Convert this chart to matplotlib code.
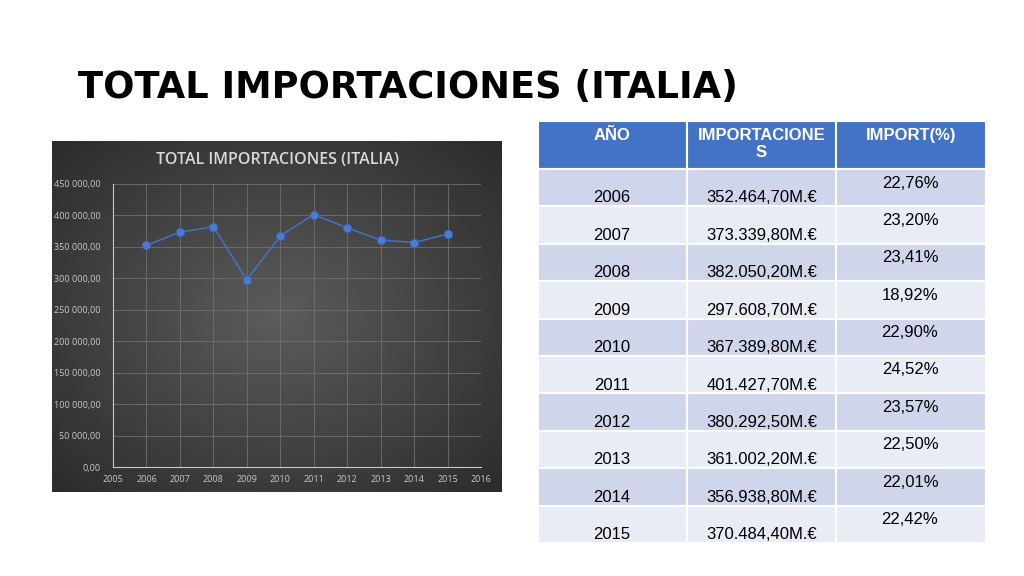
import numpy as np
import matplotlib.pyplot as plt
from matplotlib.patches import Rectangle
from matplotlib.ticker import FuncFormatter

# Datos
years = [2006, 2007, 2008, 2009, 2010, 2011, 2012, 2013, 2014, 2015]
imports = [352464.70, 373339.80, 382050.20, 297608.70, 367389.80,
           401427.70, 380292.50, 361002.20, 356938.80, 370484.40]
import_labels = ['352.464,70M.€', '373.339,80M.€', '382.050,20M.€', '297.608,70M.€',
                 '367.389,80M.€', '401.427,70M.€', '380.292,50M.€', '361.002,20M.€',
                 '356.938,80M.€', '370.484,40M.€']
import_pct = ['22,76%', '23,20%', '23,41%', '18,92%', '22,90%',
              '24,52%', '23,57%', '22,50%', '22,01%', '22,42%']
headers = ['AÑO', 'IMPORTACIONE\nS', 'IMPORT(%)']

W, H = 1024, 576
fig = plt.figure(figsize=(W / 100, H / 100), dpi=100)
fig.patch.set_facecolor('white')

# capa de fondo en coordenadas de pixel
bg = fig.add_axes([0, 0, 1, 1])
bg.set_xlim(0, W)
bg.set_ylim(H, 0)
bg.axis('off')

# titulo de la diapositiva
bg.text(78, 88, 'TOTAL IMPORTACIONES (ITALIA)', fontsize=26.5, fontweight='black',
        family='DejaVu Sans', va='center', ha='left', color='black')

# panel oscuro del grafico con degradado radial
px0, px1, py0, py1 = 52, 502, 141, 492
gx, gy = np.meshgrid(np.linspace(-1, 1, 300), np.linspace(-1, 1, 240))
r = np.sqrt(gx ** 2 + gy ** 2) / np.sqrt(2)
shade = 0.36 - 0.19 * r
img = np.dstack([shade, shade, shade])
bg.imshow(img, extent=[px0, px1, py1, py0], aspect='auto', zorder=1)
bg.set_xlim(0, W)
bg.set_ylim(H, 0)

bg.text((px0 + px1) / 2, 160, 'TOTAL IMPORTACIONES (ITALIA)', fontsize=11.5,
        family='Open Sans', fontweight='semibold', color='#d9d9d9',
        ha='center', va='center', zorder=2)

# tabla
col_x = [538, 687, 836, 986]
head_top, head_bot = 121, 169
row_h = (543 - head_bot) / len(years)
for c in range(3):
    bg.add_patch(Rectangle((col_x[c], head_top), col_x[c + 1] - col_x[c], head_bot - head_top,
                           facecolor='#4472c4', edgecolor='white', lw=1.5, zorder=1))
    bg.text((col_x[c] + col_x[c + 1]) / 2, 128, headers[c], color='white', fontsize=12,
            fontweight='bold', family='Liberation Sans', ha='center', va='top',
            linespacing=1.15, zorder=2)

for i, yr in enumerate(years):
    top = head_bot + i * row_h
    color = '#cfd5ea' if i % 2 == 0 else '#e9ebf5'
    for c in range(3):
        bg.add_patch(Rectangle((col_x[c], top), col_x[c + 1] - col_x[c], row_h,
                               facecolor=color, edgecolor='white', lw=1.5, zorder=1))
    bg.text(612, top + 29, str(yr), fontsize=12, family='Liberation Sans',
            ha='center', va='center', color='black', zorder=2)
    bg.text(762, top + 29, import_labels[i], fontsize=12, family='Liberation Sans',
            ha='center', va='center', color='black', zorder=2)
    bg.text(910, top + 14, import_pct[i], fontsize=12, family='Liberation Sans',
            ha='center', va='center', color='black', zorder=2)

# grafico de lineas
ax = fig.add_axes([113 / W, 1 - 467 / H, (481 - 113) / W, (467 - 184) / H])
ax.patch.set_alpha(0)
ax.plot(years, imports, color='#4472c4', lw=1.1, marker='o', markersize=6,
        markerfacecolor='#4a7bd6', markeredgecolor='#3a64b0', markeredgewidth=0.6)
ax.set_xlim(2005, 2016)
ax.set_ylim(0, 450000)
ax.set_xticks(range(2005, 2017))
ax.set_yticks(range(0, 450001, 50000))
ax.yaxis.set_major_formatter(FuncFormatter(
    lambda v, p: f'{v:,.2f}'.replace(',', ' ').replace('.', ',')))
ax.grid(True, color='#707070', lw=0.6)
ax.set_axisbelow(True)
for s in ['top', 'right']:
    ax.spines[s].set_visible(False)
for s in ['left', 'bottom']:
    ax.spines[s].set_color('#c8c8c8')
    ax.spines[s].set_linewidth(0.8)
ax.tick_params(length=0, colors='#c8c8c8', labelsize=6.5)
ax.tick_params(axis='y', pad=9)
ax.tick_params(axis='x', pad=6)
for lbl in ax.get_xticklabels() + ax.get_yticklabels():
    lbl.set_family('Open Sans')

fig.savefig('out.png', dpi=100)
